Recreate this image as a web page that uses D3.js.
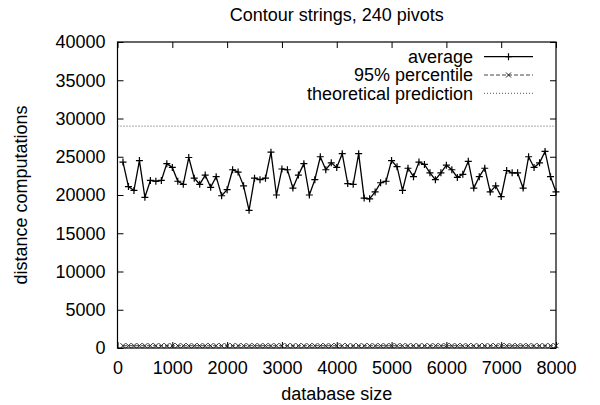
<!DOCTYPE html>
<html><head><meta charset="utf-8">
<script src="https://cdn.jsdelivr.net/npm/d3@7"></script>
<style>
html,body{margin:0;padding:0;background:#fff;}
text{font-family:"Liberation Sans",Arial,Helvetica,sans-serif;fill:#000;}
</style></head>
<body><svg id="c" width="600" height="405"></svg>
<script>
const title = "Contour strings, 240 pivots";
const xLabel = "database size";
const yLabel = "distance computations";
const xTicks = [0,1000,2000,3000,4000,5000,6000,7000,8000];
const yTicks = [0,5000,10000,15000,20000,25000,30000,35000,40000];
const sizes = [100,200,300,400,500,600,700,800,900,1000,1100,1200,1300,1400,1500,1600,1700,1800,1900,2000,
2100,2200,2300,2400,2500,2600,2700,2800,2900,3000,3100,3200,3300,3400,3500,3600,3700,3800,3900,4000,
4100,4200,4300,4400,4500,4600,4700,4800,4900,5000,5100,5200,5300,5400,5500,5600,5700,5800,5900,6000,
6100,6200,6300,6400,6500,6600,6700,6800,6900,7000,7100,7200,7300,7400,7500,7600,7700,7800,7900,8000];
const average = [24300,21100,20600,24500,19700,21900,21800,21900,24100,23600,
21800,21400,24900,22200,21400,22600,21000,22400,19900,20700,
23300,23000,21200,18000,22200,22000,22200,25600,20000,23400,
23300,20900,22600,24100,20000,22000,25000,23300,24200,23600,
25400,21500,21400,25400,19600,19500,20400,21600,21800,24500,
23700,20600,23500,22400,24300,24000,22900,22000,22900,23900,
23300,22300,22700,24400,20900,22400,23500,20400,21200,19800,
23200,22900,22900,20900,25000,23600,24200,25700,22400,20400];
const percentile95 = [300,300,300,300,300,300,300,300,300,300,
300,300,300,300,300,300,300,300,300,300,
300,300,300,300,300,300,300,300,300,300,
300,300,300,300,300,300,300,300,300,300,
300,300,300,300,300,300,300,300,300,300,
300,300,300,300,300,300,300,300,300,300,
300,300,300,300,300,300,300,300,300,300,
300,300,300,300,300,300,300,300,300,300];
const theoretical = 29000;
const legendLabels = ["average","95% percentile","theoretical prediction"];

const svg = d3.select("#c");
svg.append("rect").attr("width",600).attr("height",405).attr("fill","#fff");
const L=117.5, R=556, T=42, B=348;
const x = d3.scaleLinear().domain([0,8000]).range([L,R]);
const y = d3.scaleLinear().domain([0,40000]).range([B,T]);
const fs = "18px";

// border
svg.append("rect").attr("x",L).attr("y",T).attr("width",R-L).attr("height",B-T)
  .attr("fill","none").attr("stroke","#000").attr("stroke-width",1.2);

// axes with inward ticks
const tl = 6;
const gB = svg.append("g").attr("transform",`translate(0,${B})`)
  .call(d3.axisBottom(x).tickValues(xTicks).tickSizeInner(-tl).tickSizeOuter(0).tickPadding(13).tickFormat(d3.format("d")));
const gT = svg.append("g").attr("transform",`translate(0,${T})`)
  .call(d3.axisTop(x).tickValues(xTicks).tickSizeInner(-tl).tickSizeOuter(0).tickFormat(""));
const gL = svg.append("g").attr("transform",`translate(${L},0)`)
  .call(d3.axisLeft(y).tickValues(yTicks).tickSizeInner(-tl).tickSizeOuter(0).tickPadding(12).tickFormat(d3.format("d")));
const gR = svg.append("g").attr("transform",`translate(${R},0)`)
  .call(d3.axisRight(y).tickValues(yTicks).tickSizeInner(-tl).tickSizeOuter(0).tickFormat(""));
[gB,gT,gL,gR].forEach(g=>{
  g.select(".domain").remove();
  g.selectAll("line").attr("stroke","#000").attr("stroke-width",1);
  g.selectAll("text").attr("font-size",fs).attr("font-family","Liberation Sans, Arial, sans-serif").attr("fill","#000");
});
gB.selectAll("text").attr("dy","0.71em");

// title and labels
svg.append("text").attr("x",(L+R)/2).attr("y",20.5).attr("text-anchor","middle").attr("font-size",fs).text(title);
svg.append("text").attr("x",(L+R)/2).attr("y",400).attr("text-anchor","middle").attr("font-size",fs).text(xLabel);
svg.append("text").attr("transform",`translate(27,${(T+B)/2}) rotate(-90)`).attr("text-anchor","middle").attr("font-size",fs).text(yLabel);

// theoretical
svg.append("line").attr("x1",L).attr("x2",R).attr("y1",y(theoretical)).attr("y2",y(theoretical))
  .attr("stroke","#555").attr("stroke-width",1).attr("stroke-dasharray","1,2");

const avgData = sizes.map((s,i)=>[s,average[i]]);
const pctData = sizes.map((s,i)=>[s,percentile95[i]]);
const line = d3.line().x(d=>x(d[0])).y(d=>y(d[1]));

// percentile
svg.append("path").datum(pctData).attr("d",line).attr("fill","none").attr("stroke","#444").attr("stroke-width",1).attr("stroke-dasharray","4,2");
const xm = 2.5;
svg.append("g").selectAll("path").data(pctData).join("path")
  .attr("d",d=>{const cx=x(d[0]),cy=y(d[1]);return `M${cx-xm},${cy-xm}L${cx+xm},${cy+xm}M${cx-xm},${cy+xm}L${cx+xm},${cy-xm}`;})
  .attr("stroke","#222").attr("stroke-width",1).attr("fill","none");

// average
svg.append("path").datum(avgData).attr("d",line).attr("fill","none").attr("stroke","#000").attr("stroke-width",1.3);
const pm = 3.5;
svg.append("g").selectAll("path").data(avgData).join("path")
  .attr("d",d=>{const cx=x(d[0]),cy=y(d[1]);return `M${cx-pm},${cy}L${cx+pm},${cy}M${cx},${cy-pm}L${cx},${cy+pm}`;})
  .attr("stroke","#000").attr("stroke-width",1.2);

// legend
const lx1=484, lx2=533, ltx=473, ly=[56.7,75,93.3];
const lg = svg.append("g");
legendLabels.forEach((t,i)=>{
  lg.append("text").attr("x",ltx).attr("y",ly[i]).attr("dy","0.35em").attr("text-anchor","end").attr("font-size",fs).text(t);
});
lg.append("line").attr("x1",lx1).attr("x2",lx2).attr("y1",ly[0]).attr("y2",ly[0]).attr("stroke","#000").attr("stroke-width",1.3);
const mx=(lx1+lx2)/2;
lg.append("path").attr("d",`M${mx-pm},${ly[0]}L${mx+pm},${ly[0]}M${mx},${ly[0]-pm}L${mx},${ly[0]+pm}`).attr("stroke","#000").attr("stroke-width",1.2);
lg.append("line").attr("x1",lx1).attr("x2",lx2).attr("y1",ly[1]).attr("y2",ly[1]).attr("stroke","#444").attr("stroke-dasharray","4,2");
lg.append("path").attr("d",`M${mx-xm},${ly[1]-xm}L${mx+xm},${ly[1]+xm}M${mx-xm},${ly[1]+xm}L${mx+xm},${ly[1]-xm}`).attr("stroke","#222");
lg.append("line").attr("x1",lx1).attr("x2",lx2).attr("y1",ly[2]).attr("y2",ly[2]).attr("stroke","#555").attr("stroke-dasharray","1,2");
</script></body></html>
